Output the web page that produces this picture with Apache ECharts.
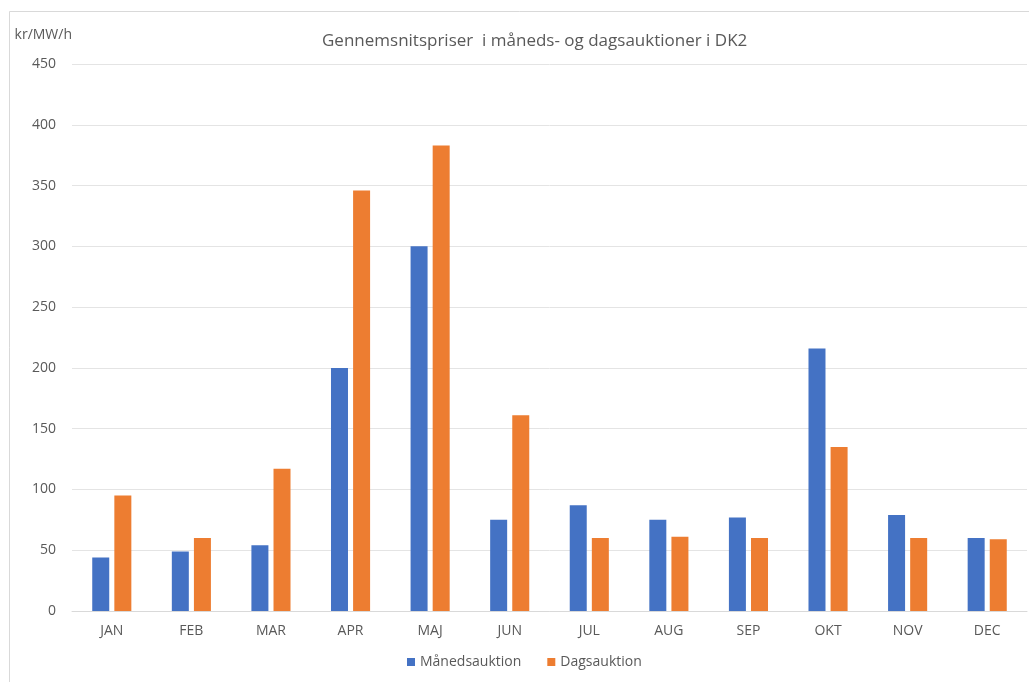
<!DOCTYPE html>
<html>
<head>
<meta charset="utf-8">
<script src="https://cdn.jsdelivr.net/npm/echarts@6/dist/echarts.min.js"></script>
<style>
html,body{margin:0;padding:0;background:#fff;}
#chart{width:1029px;height:682px;}
</style>
</head>
<body>
<div id="chart"></div>
<script>
const categories = ['JAN','FEB','MAR','APR','MAJ','JUN','JUL','AUG','SEP','OKT','NOV','DEC'];
const maanedsauktion = [44, 49, 54, 200, 300, 75, 87, 75, 77, 216, 79, 60];
const dagsauktion = [95, 60, 117, 346, 383, 161, 60, 61, 60, 135, 60, 59];
const seriesNames = ['Månedsauktion', 'Dagsauktion'];
const titleText = 'Gennemsnitspriser  i måneds- og dagsauktioner i DK2';
const yUnit = 'kr/MW/h';

const font = 'Open Sans';
const chart = echarts.init(document.getElementById('chart'));
chart.setOption({
  animation: false,
  backgroundColor: '#ffffff',
  textStyle: { fontFamily: font },
  graphic: [{
    type: 'rect', left: 7, top: 9,
    shape: { width: 1040, height: 700 },
    style: { fill: 'none', stroke: '#d9d9d9', lineWidth: 1 },
    silent: true
  }],
  title: {
    text: titleText, left: 317, top: 28,
    textStyle: { fontFamily: font, fontSize: 17, fontWeight: 'normal', color: '#595959' }
  },
  legend: {
    bottom: 8, left: 402, itemWidth: 8, itemHeight: 8, itemGap: 26, icon: 'rect',
    textStyle: { fontFamily: font, fontSize: 14, color: '#595959' },
    data: seriesNames
  },
  grid: { left: 72, right: 2, top: 64, bottom: 71, containLabel: false },
  xAxis: {
    type: 'category', data: categories,
    axisLine: { lineStyle: { color: '#d9d9d9' } },
    axisTick: { show: false },
    axisLabel: { color: '#595959', fontSize: 14, margin: 13, fontFamily: font }
  },
  yAxis: {
    type: 'value', min: 0, max: 450, interval: 50,
    name: yUnit, nameLocation: 'end', nameGap: 29,
    nameTextStyle: { color: '#595959', fontSize: 14, align: 'right', verticalAlign: 'middle', fontFamily: font },
    axisLine: { show: false }, axisTick: { show: false },
    axisLabel: { color: '#595959', fontSize: 14, margin: 16, fontFamily: font },
    splitLine: { lineStyle: { color: '#e4e4e4', width: 1 } }
  },
  series: [
    { name: seriesNames[0], type: 'bar', data: maanedsauktion, barWidth: 17, barGap: '30%',
      itemStyle: { color: '#4472C4' } },
    { name: seriesNames[1], type: 'bar', data: dagsauktion, barWidth: 17,
      itemStyle: { color: '#ED7D31' } }
  ]
});
</script>
</body>
</html>
